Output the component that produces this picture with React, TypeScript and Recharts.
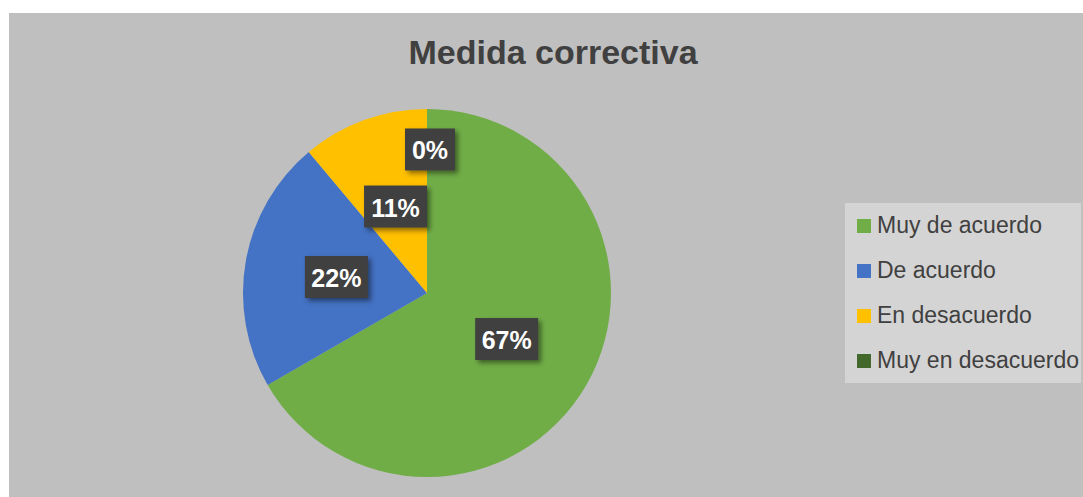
import React from 'react';
import { PieChart, Pie, Cell, Legend } from 'recharts';

const categories = ['Muy de acuerdo', 'De acuerdo', 'En desacuerdo', 'Muy en desacuerdo'];
const counts = [6, 2, 1, 0];
const colors = ['#70AD47', '#4472C4', '#FFC000', '#43682B'];

const data = categories.map((name, i) => ({ name, value: counts[i] }));

const RAD = Math.PI / 180;

const renderLabel = (props: any) => {
  const { cx, cy, midAngle, outerRadius, percent, value } = props;
  const r = value === 0 ? outerRadius * 0.78 : outerRadius * 0.5;
  const x = cx + r * Math.cos(-midAngle * RAD) + (value === 0 ? 3 : 0);
  const y = cy + r * Math.sin(-midAngle * RAD);
  const text = `${Math.round(percent * 100)}%`;
  const w = 24 + 13 * text.length;
  const h = 42;
  return (
    <g>
      <rect
        x={x - w / 2}
        y={y - h / 2}
        width={w}
        height={h}
        fill="#404040"
        filter="url(#lblShadow)"
      />
      <text
        x={x}
        y={y + 1}
        fill="#fff"
        textAnchor="middle"
        dominantBaseline="central"
        style={{ fontSize: 25, fontWeight: 'bold', fontFamily: '"Liberation Sans", Arial, sans-serif' }}
      >
        {text}
      </text>
    </g>
  );
};

const renderLegend = () => (
  <div
    style={{
      background: '#D4D4D4',
      width: 236,
      height: 180,
      boxSizing: 'border-box',
      fontFamily: '"Liberation Sans", Arial, sans-serif',
    }}
  >
    {categories.map((c, i) => (
      <div key={c} style={{ display: 'flex', alignItems: 'center', height: 45, paddingLeft: 12 }}>
        <span style={{ width: 14, height: 14, background: colors[i], marginRight: 6, display: 'inline-block', flexShrink: 0 }} />
        <span style={{ fontSize: 23, color: '#404040', whiteSpace: 'nowrap' }}>{c}</span>
      </div>
    ))}
  </div>
);

export default function App() {
  return (
    <div style={{ position: 'absolute', left: 0, top: 0, width: 1083, height: 497, background: '#fff' }}>
      <div style={{ position: 'absolute', left: 9, top: 13, width: 1074, height: 484, background: '#BFBFBF' }}>
        <div
          style={{
            position: 'absolute',
            left: 0,
            top: 20,
            width: 1088,
            textAlign: 'center',
            fontFamily: '"Liberation Sans", Arial, sans-serif',
            fontWeight: 'bold',
            fontSize: 34,
            color: '#404040',
          }}
        >
          Medida correctiva
        </div>
        <PieChart width={1074} height={484} margin={{ top: 0, right: 0, bottom: 0, left: 0 }}>
          <defs>
            <filter id="lblShadow" x="-20%" y="-20%" width="150%" height="160%">
              <feDropShadow dx="3" dy="3" stdDeviation="2.5" floodColor="#000" floodOpacity="0.45" />
            </filter>
          </defs>
          <Pie
            data={data}
            dataKey="value"
            nameKey="name"
            cx={418}
            cy={280}
            outerRadius={184}
            startAngle={90}
            endAngle={-270}
            stroke="none"
            label={renderLabel}
            labelLine={false}
            isAnimationActive={false}
          >
            {data.map((_, i) => (
              <Cell key={`cell-${i}`} fill={colors[i]} />
            ))}
          </Pie>
          <Legend
            content={renderLegend}
            wrapperStyle={{ left: 836, top: 190, width: 236, height: 180 }}
          />
        </PieChart>
      </div>
    </div>
  );
}
